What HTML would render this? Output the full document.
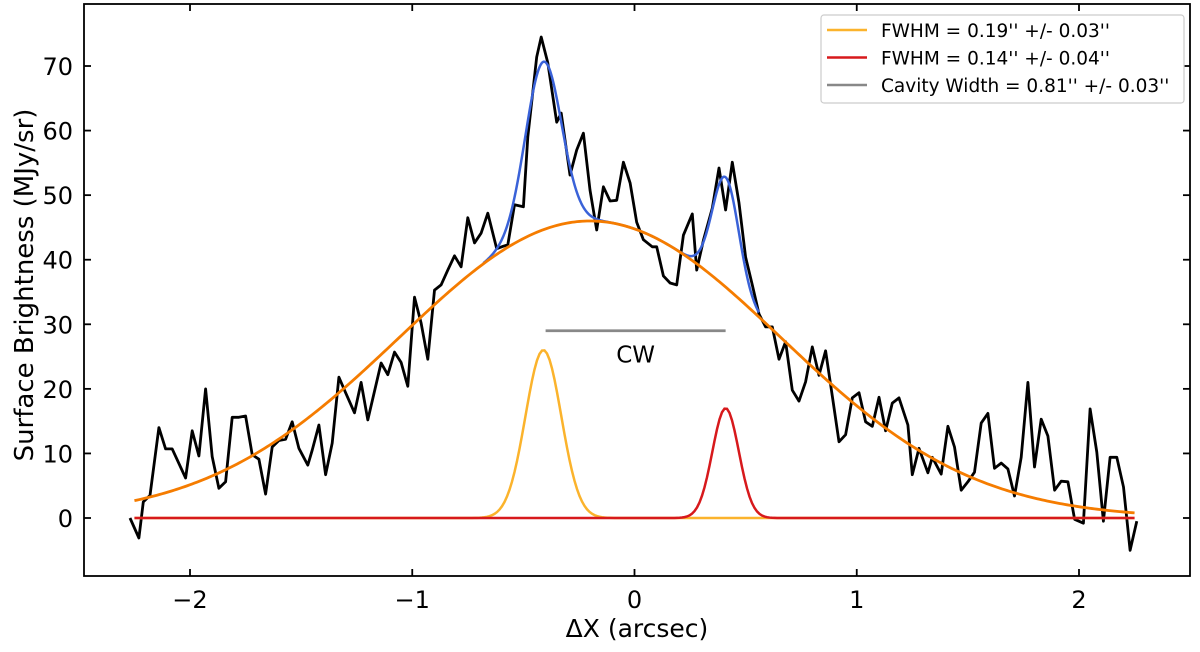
<!DOCTYPE html>
<html><head><meta charset="utf-8"><style>
body{margin:0;background:#fff}
svg{font-family:"DejaVu Sans","Liberation Sans",sans-serif}
</style></head><body>
<svg id="chart" width="1200" height="647" xmlns="http://www.w3.org/2000/svg"></svg>
<script>
const dataX=[-2.27,-2.23,-2.21,-2.18,-2.14,-2.11,-2.08,-2.02,-1.99,-1.96,-1.93,-1.90,-1.87,-1.84,-1.81,-1.78,-1.75,-1.72,-1.69,-1.66,-1.63,-1.60,-1.57,-1.54,-1.51,-1.47,-1.45,-1.42,-1.39,-1.36,-1.33,-1.30,-1.26,-1.23,-1.20,-1.14,-1.11,-1.08,-1.05,-1.02,-0.99,-0.96,-0.93,-0.90,-0.87,-0.84,-0.81,-0.78,-0.75,-0.72,-0.69,-0.66,-0.62,-0.59,-0.57,-0.54,-0.50,-0.48,-0.44,-0.42,-0.39,-0.35,-0.33,-0.29,-0.26,-0.23,-0.20,-0.17,-0.14,-0.11,-0.08,-0.05,-0.02,0.01,0.04,0.08,0.10,0.13,0.16,0.19,0.22,0.26,0.28,0.31,0.35,0.38,0.41,0.44,0.47,0.50,0.53,0.56,0.59,0.62,0.65,0.68,0.71,0.74,0.77,0.80,0.83,0.86,0.89,0.92,0.95,0.98,1.01,1.04,1.07,1.10,1.13,1.16,1.19,1.23,1.25,1.28,1.32,1.34,1.38,1.41,1.44,1.47,1.50,1.53,1.56,1.59,1.62,1.65,1.68,1.71,1.74,1.77,1.80,1.83,1.86,1.89,1.92,1.95,1.98,2.02,2.05,2.08,2.11,2.14,2.17,2.20,2.23,2.26];
const dataY=[0,-3.1,2.5,3.5,14,10.7,10.7,6.2,13.5,9.6,20,9.5,4.6,5.6,15.6,15.6,15.8,9.8,9.1,3.7,11,12,12.2,14.9,10.8,8.2,10.5,14.4,6.7,11.6,21.8,19.4,16.3,21,15.2,24,22.2,25.7,24.1,20.4,34.2,30.2,24.6,35.3,36.1,38.4,40.6,38.9,46.5,42.6,44.1,47.2,41.7,42.1,42.3,48.5,48.2,59,71.4,74.5,70.5,61.3,62.7,53.1,57,59.6,50.8,44.6,51.3,49.1,49.2,55.1,51.9,45.8,43.1,42,42,37.5,36.4,36.1,43.8,47.1,38.4,43,48,54.2,47.7,55.1,48.8,40.4,36.1,31.6,29.6,29.6,24.6,27.3,19.8,18.1,21.1,26.5,22.1,25.9,18.9,11.8,12.9,18.6,19.4,14.9,14.2,18.7,13.5,17.8,18.6,14.4,6.7,10.8,7,9.4,6.8,14.2,11,4.3,5.6,7.1,14.7,16.2,7.7,8.5,7.6,3.4,9.4,21,7.9,15.3,12.7,4.3,5.7,5.6,-0.2,-0.8,16.9,10.2,-0.5,9.4,9.4,4.8,-5,-0.5];
const broad=[46,-0.2,0.86];
const peak1=[26,-0.41,0.0807];
const peak2=[17,0.41,0.0595];
const cwRange=[-0.40,0.41];
const cwLevel=29;
const xTicks=[-2,-1,0,1,2];
const xTickLabels=["\u22122","\u22121","0","1","2"];
const yTicks=[0,10,20,30,40,50,60,70];
const yTickLabels=["0","10","20","30","40","50","60","70"];
const legendLabels=["FWHM = 0.19'' +/- 0.03''","FWHM = 0.14'' +/- 0.04''","Cavity Width = 0.81'' +/- 0.03''"];

const L=84,R=1190,T=4,B=576;
const sx=v=>634.5+v*222.25;
const sy=v=>518-v*6.457;
const NS="http://www.w3.org/2000/svg";
const svg=document.getElementById('chart');
function mk(t,a,p){const e=document.createElementNS(NS,t);for(const k in a)e.setAttribute(k,a[k]);(p||svg).appendChild(e);return e;}
const g=(p,x)=>p[0]*Math.exp(-((x-p[1])**2)/(2*p[2]*p[2]));
function curve(f,x0,x1){let d="";const n=400;for(let i=0;i<=n;i++){const x=x0+(x1-x0)*i/n;d+=(i?"L":"M")+sx(x).toFixed(2)+","+sy(f(x)).toFixed(2);}return d;}

let d="";dataX.forEach((x,i)=>{d+=(i?"L":"M")+sx(x).toFixed(1)+","+sy(dataY[i]).toFixed(1);});
let e=mk('path',{d,fill:'none',stroke:'#000','stroke-width':2.8,'stroke-linejoin':'round'});


e=mk('path',{d:curve(x=>g(peak1,x),-2.25,2.25),fill:'none',stroke:'#fbb32c','stroke-width':2.5});


e=mk('path',{d:curve(x=>g(peak2,x),-2.25,2.25),fill:'none',stroke:'#d7191c','stroke-width':2.5});


e=mk('path',{d:curve(x=>g(broad,x)+g(peak1,x)+g(peak2,x),-0.68,0.56),fill:'none',stroke:'#3a62d8','stroke-width':2.5});


e=mk('path',{d:curve(x=>g(broad,x),-2.25,2.25),fill:'none',stroke:'#f57c00','stroke-width':2.8});


e=mk('line',{x1:sx(cwRange[0]),x2:sx(cwRange[1]),y1:sy(cwLevel),y2:sy(cwLevel),stroke:'#888','stroke-width':2.8});


e=mk('text',{x:(sx(cwRange[0])+sx(cwRange[1]))/2,y:sy(cwLevel)+32,'font-size':23,'text-anchor':'middle'});e.textContent='CW';



e=mk('rect',{x:L,y:T,width:R-L,height:B-T,fill:'none',stroke:'#000','stroke-width':1.8});


xTicks.forEach((v,i)=>{
 mk('line',{x1:sx(v),x2:sx(v),y1:B,y2:B-7,stroke:'#000','stroke-width':1.8});
 mk('line',{x1:sx(v),x2:sx(v),y1:T,y2:T+7,stroke:'#000','stroke-width':1.8});
 const t=mk('text',{x:sx(v),y:B+32,'font-size':24,'text-anchor':'middle'});t.textContent=xTickLabels[i];
 
 
});
yTicks.forEach((v,i)=>{
 mk('line',{x1:L,x2:L+7,y1:sy(v),y2:sy(v),stroke:'#000','stroke-width':1.8});
 mk('line',{x1:R,x2:R-7,y1:sy(v),y2:sy(v),stroke:'#000','stroke-width':1.8});
 const t=mk('text',{x:L-11,y:sy(v)+9,'font-size':24,'text-anchor':'end'});t.textContent=yTickLabels[i];
 
 
});
e=mk('text',{x:637,y:637,'font-size':25,'text-anchor':'middle'});e.textContent='\u0394X (arcsec)';


e=mk('text',{x:0,y:0,'font-size':26,'text-anchor':'middle',transform:'translate(33,285) rotate(-90)'});e.textContent='Surface Brightness (MJy/sr)';



const lg=mk('g',{});


mk('rect',{x:821,y:15,width:363,height:88,rx:3,fill:'#fff',stroke:'#ccc','stroke-width':1.2},lg);
const cols=['#fbb32c','#d7191c','#888'];
legendLabels.forEach((s,i)=>{
 const y=30+i*27.5;
 const ln=mk('line',{x1:827,x2:867,y1:y,y2:y,stroke:cols[i],'stroke-width':2.5},lg);
 
 
 const t=mk('text',{x:881,y:y+7,'font-size':18.5},lg);t.textContent=s;
 
 
});
</script>
</body></html>
